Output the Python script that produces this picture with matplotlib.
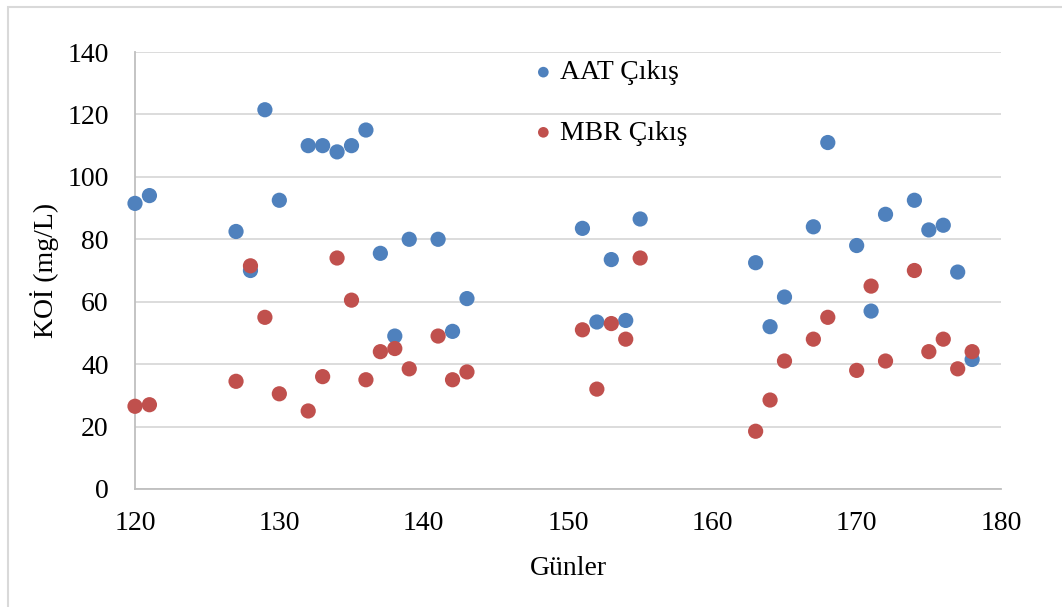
import matplotlib
matplotlib.use("Agg")
import matplotlib.pyplot as plt
from matplotlib.patches import Rectangle

plt.rcParams['font.family'] = ['Liberation Serif', 'DejaVu Serif']

# Days of operation
gunler = [120, 121, 127, 128, 129, 130, 132, 133, 134, 135, 136, 137, 138, 139,
          141, 142, 143, 151, 152, 153, 154, 155, 163, 164, 165, 167, 168, 170,
          171, 172, 174, 175, 176, 177, 178]

# COD at the activated-sludge (AAT) outlet, mg/L
aat_cikis = [91.5, 94, 82.5, 70, 121.5, 92.5, 110, 110, 108, 110, 115, 75.5, 49, 80,
             80, 50.5, 61, 83.5, 53.5, 73.5, 54, 86.5, 72.5, 52, 61.5, 84, 111, 78,
             57, 88, 92.5, 83, 84.5, 69.5, 41.5]

# COD at the MBR outlet, mg/L
mbr_cikis = [26.5, 27, 34.5, 71.5, 55, 30.5, 25, 36, 74, 60.5, 35, 44, 45, 38.5,
             49, 35, 37.5, 51, 32, 53, 48, 74, 18.5, 28.5, 41, 48, 55, 38,
             65, 41, 70, 44, 48, 38.5, 44]

series_names = ['AAT Çıkış', 'MBR Çıkış']
series_colors = ['#4F81BD', '#C0504D']
x_ticks = [120, 130, 140, 150, 160, 170, 180]
y_ticks = [0, 20, 40, 60, 80, 100, 120, 140]

fig = plt.figure(figsize=(10.62, 6.07), dpi=100)
fig.patches.append(Rectangle((8 / 1062, -0.05), 1.2, 1 - 7 / 607 + 0.05,
                             transform=fig.transFigure, fill=False,
                             edgecolor='#d9d9d9', linewidth=1.5, zorder=0))

ax = fig.add_axes([135 / 1062, 1 - 489 / 607, 866 / 1062, 437 / 607])

for vals, name, col in zip([aat_cikis, mbr_cikis], series_names, series_colors):
    ax.scatter(gunler, vals, s=120, color=col, edgecolors='none', label=name,
               zorder=3, clip_on=False)

ax.set_xlim(120, 180)
ax.set_ylim(0, 140)
ax.set_xticks(x_ticks)
ax.set_yticks(y_ticks)
ax.tick_params(axis='both', length=0, labelsize=20)
ax.tick_params(axis='x', pad=16)
ax.tick_params(axis='y', pad=19)

ax.yaxis.grid(True, color='#d9d9d9', linewidth=1.3, zorder=0)
ax.set_axisbelow(True)
for side in ['top', 'right']:
    ax.spines[side].set_visible(False)
for side in ['left', 'bottom']:
    ax.spines[side].set_color('#bfbfbf')
    ax.spines[side].set_linewidth(1.3)

ax.set_xlabel('Günler', fontsize=20, labelpad=14)
ax.set_ylabel('KOİ (mg/L)', fontsize=20, labelpad=6)

leg = ax.legend(loc='upper left', bbox_to_anchor=(535 / 1062, 1 - 60 / 607),
                bbox_transform=fig.transFigure, frameon=False, fontsize=20,
                markerscale=0.7, handlelength=0.6, handletextpad=0.3,
                labelspacing=1.25, borderpad=0, borderaxespad=0)

fig.savefig('out.png', dpi=100)
